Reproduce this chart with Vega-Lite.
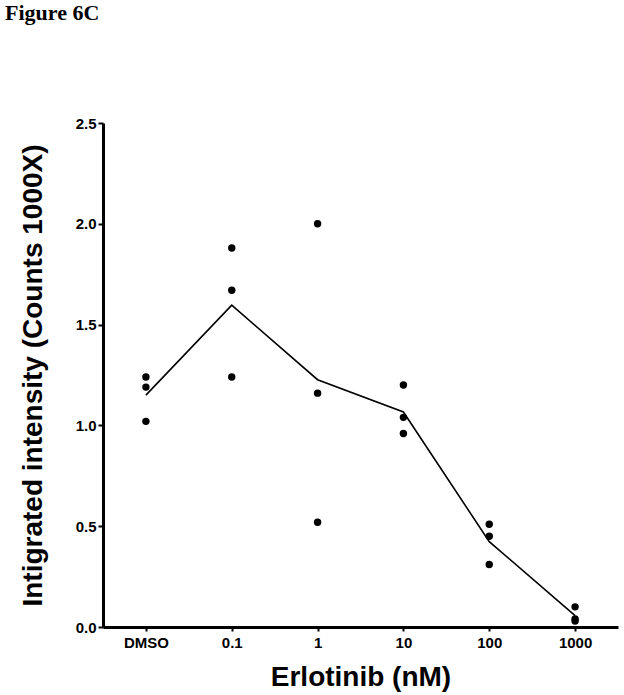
{
  "$schema": "https://vega.github.io/schema/vega-lite/v6.json",
  "width": 515,
  "height": 504,
  "autosize": "none",
  "padding": {"left": 103, "top": 123, "right": 6, "bottom": 68},
  "background": "white",
  "title": {
    "text": "Figure 6C",
    "anchor": "start",
    "frame": "group",
    "dx": -98,
    "offset": 91,
    "font": "Liberation Serif",
    "fontSize": 22,
    "fontWeight": "bold",
    "color": "black"
  },
  "data": {
    "values": [
      {"dose": "DMSO", "value": 1.24},
      {"dose": "DMSO", "value": 1.19},
      {"dose": "DMSO", "value": 1.02},
      {"dose": "0.1", "value": 1.88},
      {"dose": "0.1", "value": 1.67},
      {"dose": "0.1", "value": 1.24},
      {"dose": "1", "value": 2.00},
      {"dose": "1", "value": 1.16},
      {"dose": "1", "value": 0.52},
      {"dose": "10", "value": 1.20},
      {"dose": "10", "value": 1.04},
      {"dose": "10", "value": 0.96},
      {"dose": "100", "value": 0.51},
      {"dose": "100", "value": 0.45},
      {"dose": "100", "value": 0.31},
      {"dose": "1000", "value": 0.10},
      {"dose": "1000", "value": 0.04},
      {"dose": "1000", "value": 0.03}
    ]
  },
  "config": {
    "view": {"stroke": null},
    "axis": {
      "grid": false,
      "domainColor": "black",
      "domainWidth": 3,
      "tickColor": "black",
      "tickWidth": 2,
      "labelFont": "Liberation Sans",
      "labelFontWeight": "bold",
      "labelFontSize": 15,
      "labelColor": "black",
      "titleFont": "Liberation Sans",
      "titleFontWeight": "bold",
      "titleColor": "black"
    }
  },
  "encoding": {
    "x": {
      "field": "dose",
      "type": "ordinal",
      "sort": ["DMSO", "0.1", "1", "10", "100", "1000"],
      "scale": {"type": "point", "padding": 0.5},
      "axis": {
        "title": "Erlotinib (nM)",
        "titleFontSize": 28,
        "titlePadding": 13,
        "labelAngle": 0,
        "labelPadding": 4,
        "tickSize": 4
      }
    }
  },
  "layer": [
    {
      "mark": {"type": "line", "color": "black", "strokeWidth": 1.6},
      "encoding": {
        "y": {"aggregate": "mean", "field": "value", "type": "quantitative"}
      }
    },
    {
      "mark": {"type": "circle", "color": "black", "opacity": 1, "size": 55},
      "encoding": {
        "y": {
          "field": "value",
          "type": "quantitative",
          "scale": {"domain": [0, 2.5], "nice": false},
          "axis": {
            "title": "Intigrated intensity (Counts 1000X)",
            "titleFontSize": 28,
            "titlePadding": 28,
            "values": [0, 0.5, 1, 1.5, 2, 2.5],
            "format": ".1f",
            "tickSize": 5,
            "labelPadding": 2
          }
        }
      }
    }
  ]
}
